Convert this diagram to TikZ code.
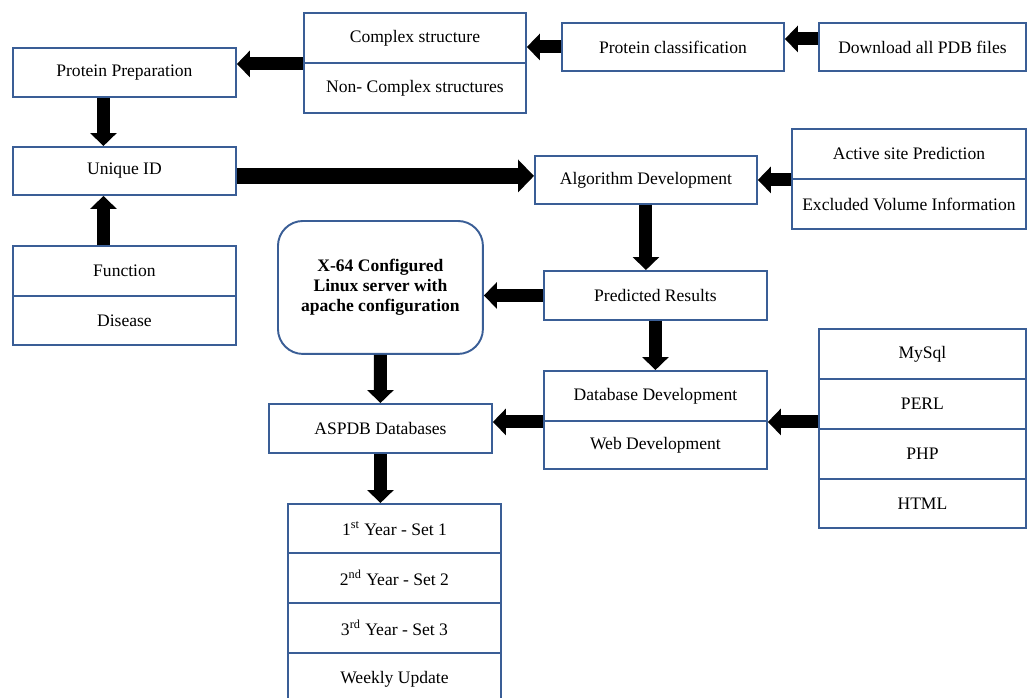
\documentclass[tikz,border=0pt]{standalone}
\usepackage{fontspec}
\setmainfont{Liberation Serif}
\usetikzlibrary{arrows.meta}
\definecolor{boxblue}{RGB}{58,94,150}
\tikzset{
  blk/.style={draw=boxblue, line width=1.1pt, fill=white, anchor=north west,
    inner sep=0pt, align=center, font=\fontsize{10}{12}\selectfont},
  fatarrow/.style={line width=0.26cm, -{Triangle[width=0.52cm,length=0.26cm]}},
  widearrow/.style={line width=0.32cm, -{Triangle[width=0.64cm,length=0.32cm]}}
}

\begin{document}
\begin{tikzpicture}[x=0.02cm,y=-0.02cm]
    \useasboundingbox (0,0) rectangle (1027,697);

    % left column
    \node[blk, minimum width=4.46cm, minimum height=0.98cm] (prep) at (12,47) {Protein Preparation};
    \node[blk, minimum width=4.46cm, minimum height=0.96cm] (uid) at (12,146) {Unique ID};
    \node[blk, minimum width=4.46cm, minimum height=1.0cm] (func) at (12,245) {Function};
    \node[blk, minimum width=4.46cm, minimum height=0.98cm] (dis) at (12,295) {Disease};

    % top row
    \node[blk, minimum width=4.44cm, minimum height=1.0cm] (cplx) at (303,12) {Complex structure};
    \node[blk, minimum width=4.44cm, minimum height=1.0cm] (ncplx) at (303,62) {Non- Complex structures};
    \node[blk, minimum width=4.44cm, minimum height=0.96cm] (pclass) at (561,22) {Protein classification};
    \node[blk, minimum width=4.14cm, minimum height=0.96cm] (pdb) at (818,22) {Download all PDB files};

    % middle
    \node[blk, minimum width=4.44cm, minimum height=0.96cm] (algo) at (534,155) {Algorithm Development};
    \node[blk, minimum width=4.68cm, minimum height=1.0cm] (asite) at (791,128) {Active site Prediction};
    \node[blk, minimum width=4.68cm, minimum height=1.0cm] (exvol) at (791,178) {Excluded Volume Information};
    \node[blk, rounded corners=0.5cm, minimum width=4.1cm, minimum height=2.66cm,
      font=\fontsize{10}{11.5}\selectfont\bfseries] (server) at (277,220)
      {X-64 Configured\\Linux server with\\apache configuration};
    \node[blk, minimum width=4.46cm, minimum height=0.98cm] (pred) at (543,270) {Predicted Results};
    \node[blk, minimum width=4.46cm, minimum height=1.0cm] (dbdev) at (543,370) {Database Development};
    \node[blk, minimum width=4.46cm, minimum height=0.96cm] (webdev) at (543,420) {Web Development};

    % tools
    \node[blk, minimum width=4.14cm, minimum height=1.0cm] (mysql) at (818,328) {MySql};
    \node[blk, minimum width=4.14cm, minimum height=1.0cm] (perl) at (818,378) {PERL};
    \node[blk, minimum width=4.14cm, minimum height=1.0cm] (php) at (818,428) {PHP};
    \node[blk, minimum width=4.14cm, minimum height=0.98cm] (html) at (818,478) {HTML};

    % databases
    \node[blk, minimum width=4.46cm, minimum height=0.98cm] (aspdb) at (268,403) {ASPDB Databases};
    \node[blk, minimum width=4.26cm, minimum height=0.98cm] (year1) at (287,503) {1\textsuperscript{st} Year - Set 1};
    \node[blk, minimum width=4.26cm, minimum height=1.0cm] (year2) at (287,552) {2\textsuperscript{nd} Year - Set 2};
    \node[blk, minimum width=4.26cm, minimum height=1.0cm] (year3) at (287,602) {3\textsuperscript{rd} Year - Set 3};
    \node[blk, minimum width=4.26cm, minimum height=1.04cm] (weekly) at (287,652) {Weekly Update};

    % arrows
    \coordinate (pdbout) at ([yshift=0.16cm]pdb.west);
    \coordinate (leftcol) at ([xshift=-0.42cm]prep.south);
    \coordinate (midrow) at ([yshift=-0.1cm]uid.east);
    \draw[fatarrow] (pdbout) -- (pdbout -| pclass.east);
    \draw[fatarrow] (pclass.west) -- (pclass.west -| cplx.east);
    \draw[fatarrow] (cplx.south west) -- (cplx.south west -| prep.east);
    \draw[fatarrow] (leftcol) -- (leftcol |- uid.north);
    \draw[fatarrow] (leftcol |- func.north) -- (leftcol |- uid.south);
    \draw[widearrow] (midrow) -- (midrow -| algo.west);
    \draw[fatarrow] (asite.south west) -- (asite.south west -| algo.east);
    \draw[fatarrow] (algo.south) -- (algo.south |- pred.north);
    \draw[fatarrow] (pred.west) -- (pred.west -| server.east);
    \draw[fatarrow] (pred.south) -- (dbdev.north);
    \draw[fatarrow] (server.south) -- (aspdb.north);
    \draw[fatarrow] (dbdev.south west) -- (dbdev.south west -| aspdb.east);
    \draw[fatarrow] (dbdev.south east -| perl.west) -- (dbdev.south east);
    \draw[fatarrow] (aspdb.south) -- (aspdb.south |- year1.north);
    %\draw[fatarrow] (year3.south) -- (weekly.north);
\end{tikzpicture}
\end{document}
